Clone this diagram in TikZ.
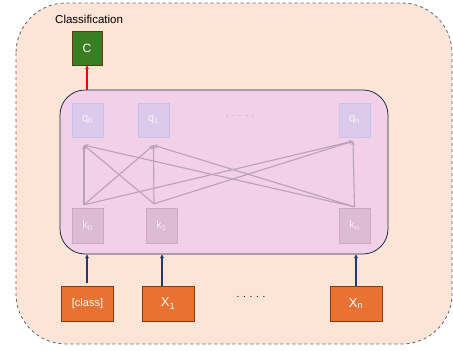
\documentclass[tikz,border=0pt]{standalone}
\usepackage{fontspec}
\setmainfont{Liberation Sans}
\usepackage{tikz}
\usetikzlibrary{positioning,arrows.meta}
\definecolor{outerColor}{HTML}{FCE4D6}
\definecolor{outerLine}{HTML}{5A6670}
\definecolor{innerColor}{HTML}{F2D0E8}
\definecolor{innerLine}{HTML}{1E3044}
\definecolor{queryColor}{HTML}{DCCAEB}
\definecolor{queryLine}{HTML}{C3C4EE}
\definecolor{keyColor}{HTML}{DCBBD4}
\definecolor{keyLine}{HTML}{CBA9C6}
\definecolor{attnColor}{HTML}{B9A1B9}
\definecolor{tokenColor}{HTML}{E97132}
\definecolor{tokenLine}{HTML}{8A3B12}
\definecolor{classColor}{HTML}{3A7D22}
\definecolor{classLine}{HTML}{5B3A1A}
\definecolor{inputArrow}{HTML}{1F3A7A}
\tikzstyle{pixels} = [x = 1pt, y = -1pt]
\tikzstyle{outerStyle} = [draw=outerLine, fill=outerColor, dashed, rounded corners = 50pt, thick]
\tikzstyle{innerStyle} = [draw=innerLine, fill=innerColor, rounded corners = 25pt, thick, minimum width = 328pt, minimum height = 164pt, inner sep = 0pt]
\tikzstyle{queryStyle} = [draw=queryLine, fill=queryColor, minimum width = 31pt, minimum height = 34pt, inner sep = 0pt, text=white!80!queryColor, font=\fontsize{11}{12}\selectfont]
\tikzstyle{keyStyle} = [draw=keyLine, fill=keyColor, minimum width = 31pt, minimum height = 35pt, inner sep = 0pt, text=white!75!keyColor, font=\fontsize{11}{12}\selectfont]
\tikzstyle{tokenStyle} = [draw=tokenLine, fill=tokenColor, thick, minimum width = 52pt, minimum height = 35pt, inner sep = 0pt, text=white]
\tikzstyle{classStyle} = [draw=classLine, fill=classColor, thick, minimum width = 30pt, minimum height = 34pt, inner sep = 0pt, text=white, font=\large]
\tikzstyle{attnLine} = [draw=attnColor, line width = 1.1pt, -{Stealth[length=4pt, width=4pt]}]
\tikzstyle{inputLine} = [draw=inputArrow, line width = 1.1pt, -{Stealth[length=4pt, width=4pt]}]
\tikzstyle{outputLine} = [draw=red, line width = 1.1pt, -{Stealth[length=4pt, width=4pt]}]
\newcommand{\queryBox}[3]{\node [queryStyle] (#1) at #2 {q\textsubscript{#3}};}
\newcommand{\keyBox}[3]{\node [keyStyle] (#1) at #2 {k\textsubscript{#3}};}
\newcommand{\tokenBox}[3]{\node [tokenStyle] (#1) at #2 {#3};}
\begin{document}
\begin{tikzpicture}[pixels]
  \useasboundingbox (0,0) rectangle (453,351);
  \filldraw [outerStyle] (16,3) rectangle (452,344);
  \node [font=\fontsize{11.5}{13}\selectfont, anchor=west, inner sep=0pt] (label) at (55,19) {Classification};
  \node [classStyle] (cls) at (87,48) {C};
  \node [innerStyle] (attention) at (224,172) {};

  % queries and keys
  \queryBox{q0}{(87.5,120)}{0}
  \queryBox{q1}{(153.5,120)}{1}
  \queryBox{qn}{(354.5,120)}{n}
  \keyBox{k0}{(87.5,225.5)}{0}
  \keyBox{k1}{(161.5,225.5)}{1}
  \keyBox{kn}{(354.5,225.5)}{n}
  \node [text=attnColor] (topDots) at (240,116) {. . . . .};

  \coordinate (q0in) at ([xshift=-3.5pt, yshift=-8pt]q0.south);
  \coordinate (q1in) at ([yshift=-8pt]q1.south);
  \coordinate (qnin) at ([xshift=-1.5pt, yshift=-4pt]qn.south);
  \coordinate (k0out) at ([xshift=-3.5pt, yshift=3pt]k0.north);
  \coordinate (k1out) at ([xshift=-7.5pt, yshift=4pt]k1.north);
  \coordinate (knout) at ([yshift=1pt]kn.north);
  \foreach \key in {k0out, k1out, knout} {
    \foreach \query in {q0in, q1in, qnin} {
      \draw [attnLine] (\key) -- (\query);
    }
  }

  % input tokens
  \tokenBox{xClass}{(87.5,303.5)}{\fontsize{11}{12}\selectfont [class]}
  \tokenBox{x1}{(168,303.5)}{\fontsize{13}{14}\selectfont X\textsubscript{1}}
  \tokenBox{xn}{(356,303.5)}{\fontsize{13}{14}\selectfont X\textsubscript{n}}
  \node (bottomDots) at (251,297) {. . . . .};

  \draw [inputLine] ([xshift=-0.5pt, yshift=3pt]xClass.north) -- ([xshift=-0.5pt]xClass.north |- attention.south);
  \draw [inputLine] ([xshift=-6pt]x1.north) -- ([xshift=-6pt]x1.north |- attention.south);
  \draw [inputLine] (xn.north) -- (xn.north |- attention.south);
  \draw [outputLine] (cls.south |- attention.north) -- (cls.south);
\end{tikzpicture}
\end{document}
